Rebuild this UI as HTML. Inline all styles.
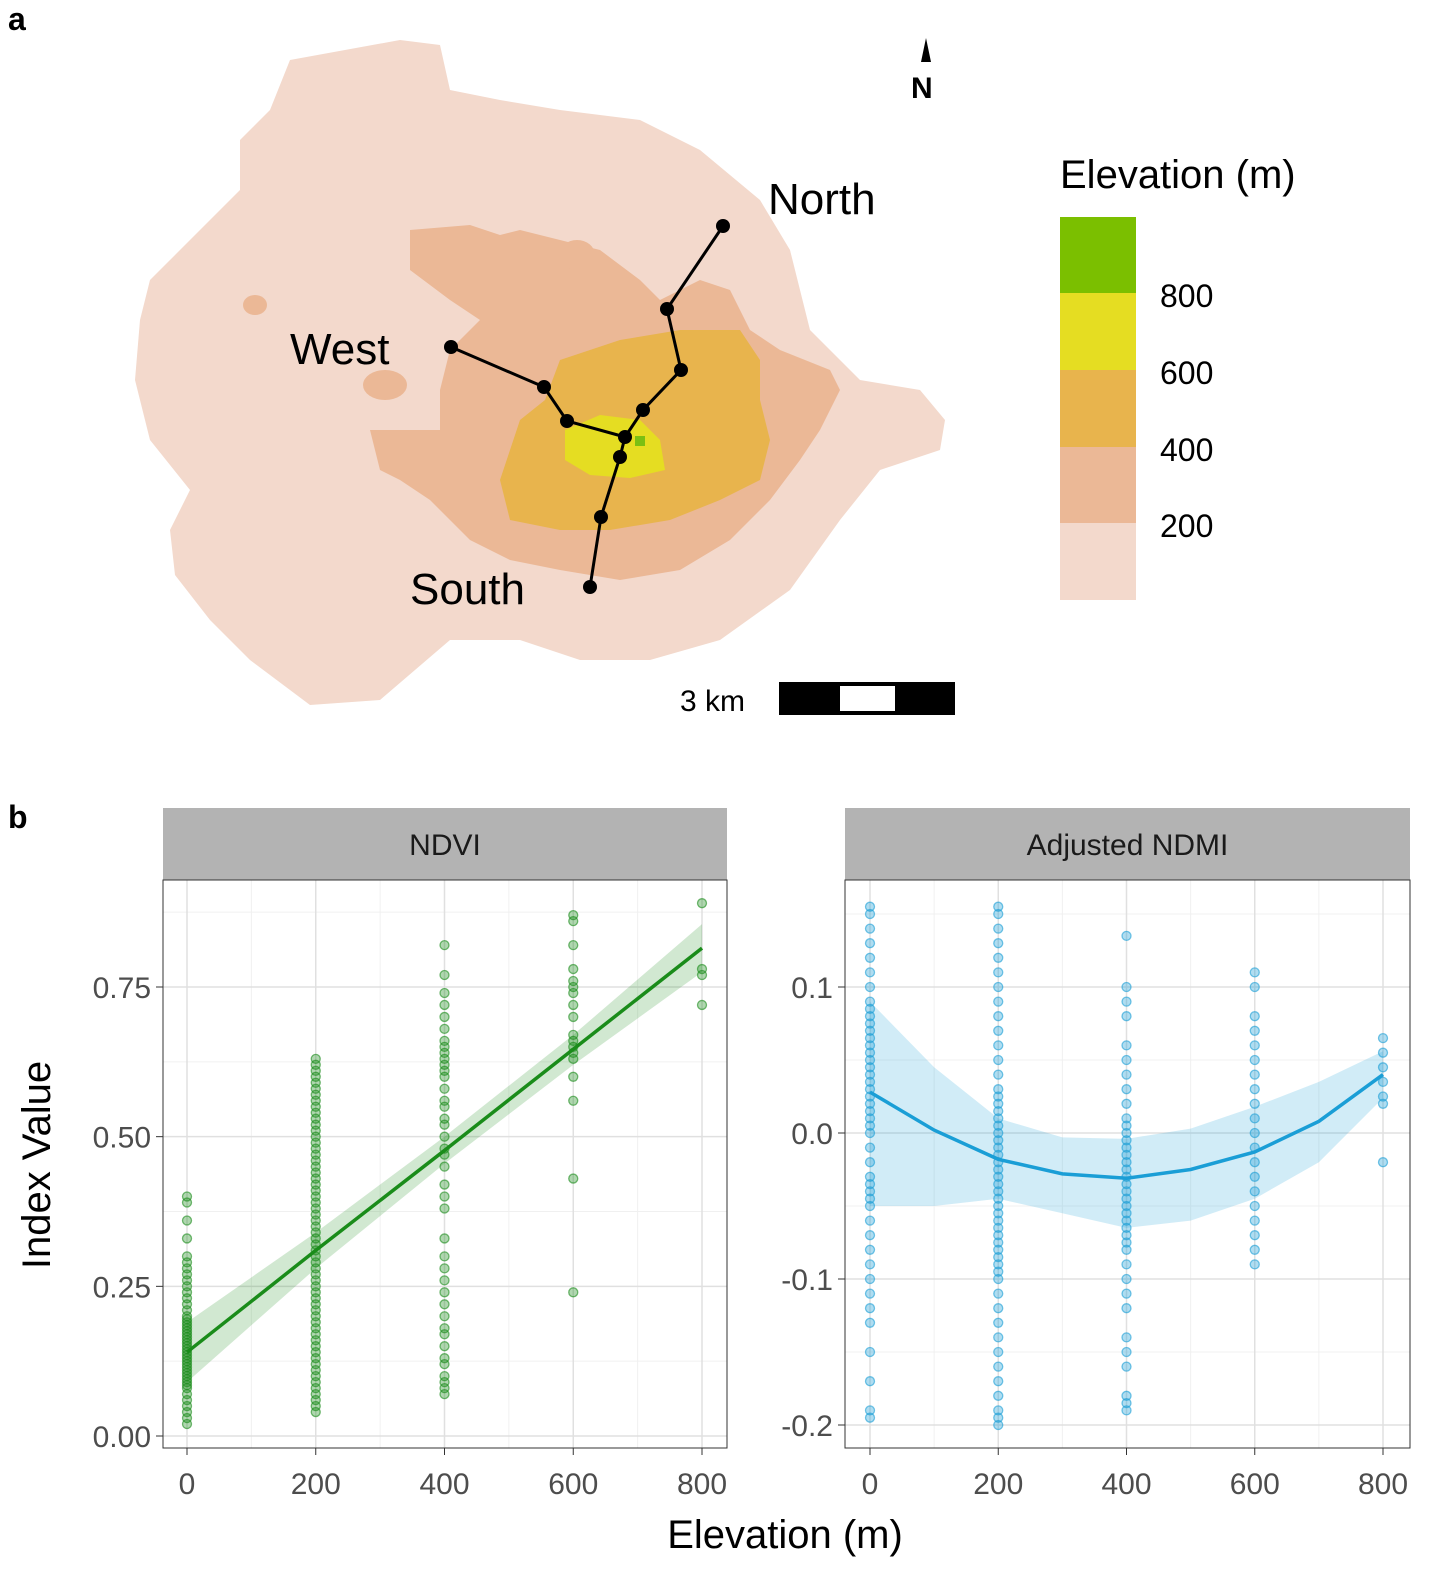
<!DOCTYPE html>
<html><head><meta charset="utf-8">
<style>
body{margin:0;background:#fff;font-family:"Liberation Sans",sans-serif;}
svg text{font-family:"Liberation Sans",sans-serif;}
</style></head>
<body>
<svg id="fig" width="1441" height="1589" viewBox="0 0 1441 1589" xmlns="http://www.w3.org/2000/svg">
<text x="8" y="30" font-size="32" font-weight="bold">a</text>
<g>
<polygon fill="#f3d9cc" points="290,60 400,40 440,45 450,90 500,100 560,110 640,120 700,150 760,200 790,250 810,330 860,380 920,390 945,420 940,450 880,470 840,520 790,590 720,640 650,660 580,660 520,640 450,640 380,700 310,705 250,660 210,620 175,575 170,530 190,490 150,440 135,380 140,320 150,280 170,260 200,230 240,190 240,140 270,110"/>
<polygon fill="#ebb896" points="410,230 470,225 500,235 520,230 560,240 600,250 640,280 660,300 700,280 730,290 750,330 780,350 830,370 840,390 820,430 800,460 770,500 730,540 680,570 620,580 560,570 510,560 470,540 430,500 400,480 380,470 370,430 440,430 440,390 450,350 480,320 450,300 410,270"/>
<ellipse fill="#ebb896" cx="577" cy="255" rx="18" ry="15"/>
<ellipse fill="#ebb896" cx="255" cy="305" rx="12" ry="10"/>
<ellipse fill="#ebb896" cx="385" cy="385" rx="22" ry="15"/>
<polygon fill="#e8b44d" points="560,360 620,340 680,330 740,330 760,360 760,400 770,440 760,480 720,500 670,520 610,530 560,530 510,520 500,480 510,450 520,420 545,400"/>
<polygon fill="#e5dd22" points="565,430 600,415 640,420 660,440 665,470 630,478 590,475 565,460"/>
<rect x="635" y="436" width="10" height="10" fill="#7bbf12"/>
</g>
<g stroke="#000" stroke-width="3" fill="none">
<polyline points="723,226 667,309 681,370 643,410 625,437"/>
<polyline points="451,347 544,387 567,421 625,437"/>
<polyline points="590,587 601,517 620,457 625,437"/>
</g>
<g fill="#000">
<circle cx="723" cy="226" r="7"/><circle cx="667" cy="309" r="7"/><circle cx="681" cy="370" r="7"/><circle cx="643" cy="410" r="7"/><circle cx="625" cy="437" r="7"/>
<circle cx="451" cy="347" r="7"/><circle cx="544" cy="387" r="7"/><circle cx="567" cy="421" r="7"/>
<circle cx="590" cy="587" r="7"/><circle cx="601" cy="517" r="7"/><circle cx="620" cy="457" r="7"/>
</g>
<text x="768" y="214" font-size="44">North</text>
<text x="290" y="364" font-size="44">West</text>
<text x="410" y="604" font-size="44">South</text>
<g>
<polygon points="926,38 931,62 921,62" fill="#000"/>
<text x="911" y="98" font-size="30" font-weight="bold">N</text>
</g>
<g>
<text x="1060" y="188" font-size="40">Elevation (m)</text>
<rect x="1060" y="217" width="76" height="77" fill="#7bbf00"/>
<rect x="1060" y="293" width="76" height="78" fill="#e5dd22"/>
<rect x="1060" y="370" width="76" height="78" fill="#e8b44d"/>
<rect x="1060" y="447" width="76" height="77" fill="#ebb896"/>
<rect x="1060" y="523" width="76" height="77" fill="#f3d9cc"/>
<text x="1160" y="307" font-size="32">800</text>
<text x="1160" y="384" font-size="32">600</text>
<text x="1160" y="461" font-size="32">400</text>
<text x="1160" y="537" font-size="32">200</text>
</g>
<g>
<text x="680" y="711" font-size="30">3 km</text>
<rect x="779" y="682" width="176" height="33" fill="#000"/>
<rect x="840" y="686" width="55" height="25" fill="#fff"/>
</g>
<text x="8" y="828" font-size="32" font-weight="bold">b</text>
<g id="charts"></g>
<text x="50" y="1165" font-size="40" fill="#000" text-anchor="middle" transform="rotate(-90 50 1165)">Index Value</text>
<text x="785" y="1548" font-size="40" fill="#000" text-anchor="middle">Elevation (m)</text>
</svg>
<script>
const xCategories=[0,200,400,600,800];
const ndviTicks=[0,0.25,0.5,0.75];
const ndviTickLabels=["0.00","0.25","0.50","0.75"];
const ndmiTicks=[-0.2,-0.1,0,0.1];
const ndmiTickLabels=["-0.2","-0.1","0.0","0.1"];
const ndvi0=[0.02,0.03,0.04,0.05,0.06,0.07,0.08,0.085,0.09,0.095,0.10,0.105,0.11,0.115,0.12,0.125,0.13,0.135,0.14,0.145,0.15,0.155,0.16,0.165,0.17,0.175,0.18,0.185,0.19,0.195,0.20,0.21,0.22,0.23,0.24,0.25,0.26,0.27,0.28,0.29,0.30,0.33,0.36,0.39,0.40];
const ndvi200=[0.04,0.05,0.06,0.07,0.08,0.09,0.10,0.11,0.12,0.13,0.14,0.15,0.16,0.17,0.18,0.19,0.20,0.21,0.22,0.23,0.24,0.25,0.26,0.27,0.28,0.29,0.30,0.31,0.32,0.33,0.34,0.35,0.36,0.37,0.38,0.39,0.40,0.41,0.42,0.43,0.44,0.45,0.46,0.47,0.48,0.49,0.50,0.51,0.52,0.53,0.54,0.55,0.56,0.57,0.58,0.59,0.60,0.61,0.62,0.63];
const ndvi400=[0.07,0.08,0.09,0.10,0.12,0.13,0.15,0.17,0.18,0.20,0.22,0.24,0.26,0.28,0.30,0.33,0.38,0.40,0.42,0.45,0.47,0.48,0.50,0.52,0.53,0.55,0.56,0.58,0.60,0.61,0.62,0.63,0.64,0.65,0.66,0.68,0.70,0.72,0.74,0.77,0.82];
const ndvi600=[0.24,0.43,0.56,0.60,0.63,0.64,0.65,0.66,0.67,0.70,0.72,0.74,0.75,0.76,0.78,0.82,0.86,0.87];
const ndvi800=[0.72,0.77,0.78,0.89];
const ndviFitX=[0,200,400,600,800];
const ndviFit=[0.14,0.31,0.477,0.646,0.815];
const ndviUpper=[0.19,0.34,0.50,0.67,0.855];
const ndviLower=[0.09,0.28,0.455,0.62,0.775];
const ndmi0=[-0.195,-0.19,-0.17,-0.15,-0.13,-0.12,-0.11,-0.1,-0.09,-0.08,-0.07,-0.06,-0.05,-0.045,-0.04,-0.035,-0.03,-0.02,-0.01,0,0.005,0.01,0.015,0.02,0.025,0.03,0.035,0.04,0.045,0.05,0.055,0.06,0.065,0.07,0.075,0.08,0.085,0.09,0.1,0.11,0.12,0.13,0.14,0.15,0.155];
const ndmi200=[-0.2,-0.195,-0.19,-0.18,-0.17,-0.16,-0.15,-0.14,-0.13,-0.12,-0.11,-0.1,-0.095,-0.09,-0.085,-0.08,-0.075,-0.07,-0.065,-0.06,-0.055,-0.05,-0.045,-0.04,-0.035,-0.03,-0.025,-0.02,-0.015,-0.01,-0.005,0,0.005,0.01,0.015,0.02,0.025,0.03,0.04,0.05,0.06,0.07,0.08,0.09,0.1,0.11,0.12,0.13,0.14,0.15,0.155];
const ndmi400=[-0.19,-0.185,-0.18,-0.16,-0.15,-0.14,-0.12,-0.11,-0.1,-0.09,-0.08,-0.075,-0.07,-0.065,-0.06,-0.055,-0.05,-0.045,-0.04,-0.035,-0.03,-0.025,-0.02,-0.015,-0.01,-0.005,0,0.005,0.01,0.02,0.03,0.04,0.05,0.06,0.08,0.09,0.1,0.135];
const ndmi600=[-0.09,-0.08,-0.07,-0.06,-0.05,-0.04,-0.03,-0.02,-0.01,0,0.01,0.02,0.03,0.04,0.05,0.06,0.07,0.08,0.1,0.11];
const ndmi800=[-0.02,0.02,0.025,0.035,0.045,0.055,0.065];
const ndmiFitX=[0,100,200,300,400,500,600,700,800];
const ndmiFit=[0.028,0.002,-0.018,-0.028,-0.031,-0.025,-0.013,0.008,0.04];
const ndmiUpper=[0.09,0.045,0.01,-0.003,-0.004,0.003,0.018,0.035,0.056];
const ndmiLower=[-0.05,-0.05,-0.045,-0.055,-0.065,-0.06,-0.045,-0.02,0.024];

const NS="http://www.w3.org/2000/svg";
const root=document.getElementById('charts');
function mk(tag,attrs,parent){const e=document.createElementNS(NS,tag);for(const k in attrs)e.setAttribute(k,attrs[k]);parent.appendChild(e);return e;}

function panel(cfg){
  const g=mk('g',{},root);
  
  
  const {x0,x1,y0,y1}=cfg;
  const xs=v=>cfg.px0+(v-0)/800*(cfg.px800-cfg.px0);
  const ys=v=>cfg.pyA+(v-cfg.vA)/(cfg.vB-cfg.vA)*(cfg.pyB-cfg.pyA);
  const strip=mk('rect',{x:x0,y:808,width:x1-x0,height:72,fill:'#b3b3b3'},g);
  
  
  const st=mk('text',{x:(x0+x1)/2,y:855,'font-size':30,'text-anchor':'middle',fill:'#1a1a1a'},g);
  st.textContent=cfg.title;
  
  
  for(let v=100;v<=700;v+=200){mk('line',{x1:xs(v),x2:xs(v),y1:y0,y2:y1,stroke:'#f0f0f0','stroke-width':1},g);}
  for(let i=0;i<cfg.ticks.length-1;i++){const m=(cfg.ticks[i]+cfg.ticks[i+1])/2;mk('line',{x1:x0,x2:x1,y1:ys(m),y2:ys(m),stroke:'#f0f0f0','stroke-width':1},g);}
  const ext=cfg.ticks[cfg.ticks.length-1]+(cfg.ticks[1]-cfg.ticks[0])/2;
  if(ys(ext)>y0) mk('line',{x1:x0,x2:x1,y1:ys(ext),y2:ys(ext),stroke:'#f0f0f0'},g);
  xCategories.forEach(v=>{mk('line',{x1:xs(v),x2:xs(v),y1:y0,y2:y1,stroke:'#e0e0e0','stroke-width':1.5},g);
    const t=mk('text',{x:xs(v),y:y1+46,'font-size':30,'text-anchor':'middle',fill:'#4d4d4d'},g);t.textContent=v;
    
    mk('line',{x1:xs(v),x2:xs(v),y1:y1,y2:y1+7,stroke:'#333'},g);});
  cfg.ticks.forEach((v,i)=>{mk('line',{x1:x0,x2:x1,y1:ys(v),y2:ys(v),stroke:'#e0e0e0','stroke-width':1.5},g);
    const t=mk('text',{x:x0-12,y:ys(v)+11,'font-size':30,'text-anchor':'end',fill:'#4d4d4d'},g);t.textContent=cfg.labels[i];
    
    mk('line',{x1:x0-7,x2:x0,y1:ys(v),y2:ys(v),stroke:'#333'},g);});
  let d='M'+cfg.fx.map((v,i)=>xs(v)+','+ys(cfg.up[i])).join(' L')+' L'+cfg.fx.slice().reverse().map((v,i)=>xs(v)+','+ys(cfg.lo[cfg.fx.length-1-i])).join(' L')+'Z';
  const rb=mk('path',{d:d,fill:cfg.color,'fill-opacity':0.2},g);
  
  cfg.groups.forEach((arr,gi)=>{arr.forEach(v=>{const c=mk('circle',{cx:xs(xCategories[gi]),cy:ys(v),r:4.5,fill:cfg.color,'fill-opacity':0.35,stroke:cfg.color,'stroke-opacity':0.6,'stroke-width':1.3},g);
    });});
  const ln=mk('polyline',{points:cfg.fx.map((v,i)=>xs(v)+','+ys(cfg.fit[i])).join(' '),fill:'none',stroke:cfg.color,'stroke-width':3.5},g);
  
  mk('rect',{x:x0,y:y0,width:x1-x0,height:y1-y0,fill:'none',stroke:'#333','stroke-width':1},g);
}
panel({name:'ndvi-panel',title:'NDVI',x0:163,x1:727,y0:880,y1:1448,px0:187,px800:702,vA:0,pyA:1436,vB:0.75,pyB:987,
  ticks:ndviTicks,labels:ndviTickLabels,groups:[ndvi0,ndvi200,ndvi400,ndvi600,ndvi800],color:'#1a8c1a',fx:ndviFitX,fit:ndviFit,up:ndviUpper,lo:ndviLower});
panel({name:'ndmi-panel',title:'Adjusted NDMI',x0:845,x1:1410,y0:880,y1:1448,px0:870,px800:1383,vA:0,pyA:1133,vB:0.1,pyB:987,
  ticks:ndmiTicks,labels:ndmiTickLabels,groups:[ndmi0,ndmi200,ndmi400,ndmi600,ndmi800],color:'#1a9ed6',fx:ndmiFitX,fit:ndmiFit,up:ndmiUpper,lo:ndmiLower});
</script>
</body></html>
